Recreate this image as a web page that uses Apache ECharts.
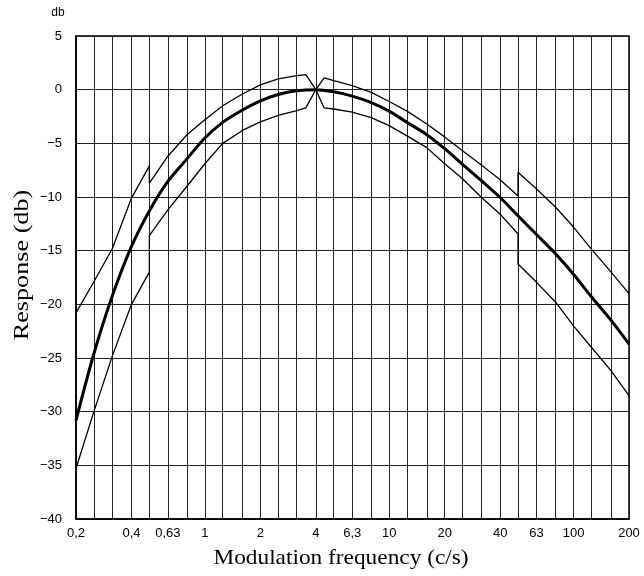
<!DOCTYPE html>
<html><head><meta charset="utf-8">
<script src="https://cdn.jsdelivr.net/npm/echarts@6/dist/echarts.min.js"></script>
<style>html,body{margin:0;padding:0;background:#fff}#c{width:644px;height:576px}</style>
</head><body><div id="c"></div>
<script>
// 1/3-octave grid frequencies (c/s)
const gridFreqs = [0.2,0.25,0.315,0.4,0.5,0.63,0.8,1,1.25,1.6,2,2.5,3.15,4,5,6.3,8,10,12.5,16,20,25,31.5,40,50,63,80,100,125,160,200];
// labelled frequencies
const labelFreqs = [0.2,0.4,0.63,1,2,4,6.3,10,20,40,63,100,200];

// nominal response (thick curve)
const centerFreq = [0.2,0.25,0.315,0.4,0.5,0.63,0.8,1,1.25,1.6,2,2.5,3.15,4,5,6.3,8,10,12.5,16,20,25,31.5,40,50,63,80,100,125,160,200];
const centerDb   = [-30.8,-24.6,-19.2,-14.6,-11.3,-8.55,-6.45,-4.5,-3.05,-1.9,-1.05,-0.45,-0.1,0,-0.2,-0.6,-1.2,-2.0,-3.05,-4.2,-5.5,-6.95,-8.45,-10.05,-11.75,-13.5,-15.3,-17.2,-19.3,-21.5,-23.7];

// upper tolerance limit, below 4 c/s (jump at 0.5)
const upperLeftFreq = [0.2,0.25,0.315,0.4,0.5,0.5,0.63,0.8,1,1.25,1.6,2,2.5,3.15,3.53,4];
const upperLeftDb   = [-20.8,-17.9,-14.8,-10.1,-7.1,-8.7,-6.2,-4.2,-2.8,-1.5,-0.4,0.45,1.0,1.3,1.4,0];
// upper tolerance limit, above 4 c/s (jump at 50)
const upperRightFreq = [4,4.44,5,6.3,8,10,12.5,16,20,25,31.5,40,50,50,63,80,100,125,160,200];
const upperRightDb   = [0,1.1,0.84,0.37,-0.25,-1.1,-2.0,-3.2,-4.4,-5.7,-7.0,-8.4,-9.9,-7.7,-9.25,-10.95,-12.8,-14.85,-17.0,-19.0];

// lower tolerance limit, below 4 c/s (jump at 0.5)
const lowerLeftFreq = [0.2,0.25,0.315,0.4,0.5,0.5,0.63,0.8,1,1.25,1.6,2,2.5,3.15,3.53,4];
const lowerLeftDb   = [-35.3,-30.0,-24.8,-20.0,-17.0,-13.6,-11.2,-9.0,-6.9,-5.0,-3.8,-3.0,-2.4,-1.95,-1.7,0];
// lower tolerance limit, above 4 c/s (jump at 50)
const lowerRightFreq = [4,4.44,5,6.3,8,10,12.5,16,20,25,31.5,40,50,50,63,80,100,125,160,200];
const lowerRightDb   = [0,-1.7,-1.8,-2.1,-2.6,-3.35,-4.3,-5.4,-6.9,-8.3,-10.0,-11.6,-13.45,-16.25,-17.95,-19.8,-22.0,-24.0,-26.2,-28.5];

const pair = (fs, ds) => fs.map((f, i) => [f, ds[i]]);
const fmtX = v => String(+(+v).toPrecision(3)).replace('.', ',');
const fmtY = v => v < 0 ? '\u2212' + Math.abs(v) : String(v);

const thin = (name, fs, ds) => ({
  name, type: 'line', data: pair(fs, ds), showSymbol: false, symbol: 'none',
  smooth: false, lineStyle: { color: '#000', width: 1.3 }, z: 5, silent: true
});

const chart = echarts.init(document.getElementById('c'), null, { renderer: 'canvas' });
chart.setOption({
  animation: false,
  backgroundColor: '#fff',
  grid: { left: 76, right: 15, top: 36, bottom: 57, show: true, borderColor: '#000', borderWidth: 1.5, backgroundColor: 'transparent' },
  xAxis: {
    type: 'log', logBase: 10, min: 0.2, max: 200,
    axisLine: { show: true, onZero: false, lineStyle: { color: '#000', width: 1.5 } },
    axisTick: { show: false, customValues: gridFreqs },
    axisLabel: { customValues: labelFreqs, formatter: fmtX, color: '#000', fontSize: 13, fontFamily: 'Liberation Sans', margin: 8 },
    splitLine: { show: true, lineStyle: { color: '#222', width: 1 } },
    minorTick: { show: false }, minorSplitLine: { show: false }
  },
  yAxis: {
    type: 'value', min: -40, max: 5, interval: 5,
    axisLine: { show: true, onZero: false, lineStyle: { color: '#000', width: 1.5 } },
    axisTick: { show: false },
    axisLabel: { formatter: fmtY, color: '#000', fontSize: 13, fontFamily: 'Liberation Sans', margin: 14 },
    splitLine: { show: true, lineStyle: { color: '#222', width: 1 } }
  },
  graphic: [
    { type: 'text', x: 58, y: 13, style: { text: 'db', font: '12px "Liberation Sans"', fill: '#000', align: 'center', verticalAlign: 'middle' } },
    { type: 'text', x: 22, y: 265, rotation: Math.PI / 2, scaleX: 1.19, style: { text: 'Response (db)', font: '22px "Liberation Serif"', fill: '#000', align: 'center', verticalAlign: 'middle' } },
    { type: 'text', x: 341, y: 558, scaleX: 1.06, style: { text: 'Modulation frequency (c/s)', font: '22px "Liberation Serif"', fill: '#000', align: 'center', verticalAlign: 'middle' } }
  ],
  series: [
    thin('upper-left', upperLeftFreq, upperLeftDb),
    thin('upper-right', upperRightFreq, upperRightDb),
    thin('lower-left', lowerLeftFreq, lowerLeftDb),
    thin('lower-right', lowerRightFreq, lowerRightDb),
    { name: 'nominal', type: 'line', data: pair(centerFreq, centerDb), showSymbol: false, symbol: 'none',
      smooth: 0.3, lineStyle: { color: '#000', width: 3 }, z: 6, silent: true }
  ]
});
</script>
</body></html>
